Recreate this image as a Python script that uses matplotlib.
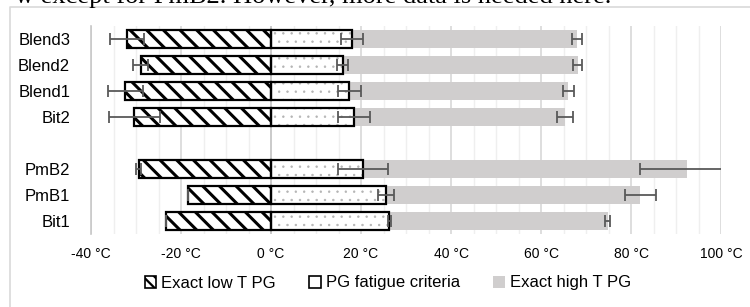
import matplotlib
matplotlib.use("Agg")
import matplotlib.pyplot as plt
import numpy as np
from matplotlib.patches import Patch
from matplotlib.lines import Line2D
from matplotlib.ticker import MultipleLocator, FuncFormatter

categories = ["Blend3", "Blend2", "Blend1", "Bit2", "", "PmB2", "PmB1", "Bit1"]
low_pg = [-32.0, -29.0, -32.4, -30.4, np.nan, -29.4, -18.4, -23.3]
low_err = [3.7, 1.7, 3.9, 5.7, np.nan, 0.5, 0.0, 0.0]
fatigue_pg = [18.0, 15.9, 17.4, 18.4, np.nan, 20.4, 25.6, 26.3]
fatigue_err = [2.5, 1.2, 2.5, 3.6, np.nan, 5.6, 1.8, 0.3]
high_pg = [68.0, 68.2, 66.1, 65.3, np.nan, 92.4, 82.1, 74.8]
high_err = [1.2, 1.0, 1.2, 1.8, np.nan, 10.4, 3.5, 0.5]
legend_labels = ["Exact low T PG", "PG fatigue criteria", "Exact high T PG"]
caption = "w except for PmB2. However, more data is needed here."

W, H = 750, 307
fig = plt.figure(figsize=(W / 100, H / 100), dpi=100)
font = "Liberation Sans"


def set_hlw(container, lw):
    for p in container:
        if hasattr(p, "set_hatch_linewidth"):
            p.set_hatch_linewidth(lw)


ax = fig.add_axes([91 / W, 1 - 234 / H, (721 - 91) / W, (234 - 26) / H])
y = np.arange(len(categories))
low = np.array(low_pg, dtype=float)
fat = np.array(fatigue_pg, dtype=float)
high = np.array(high_pg, dtype=float)
bh = 0.66
gray = "#d0cece"
errc = "#595959"

# high T bars (stacked after fatigue)
ax.barh(y, high - fat, left=fat, height=bh, color=gray, edgecolor="none", zorder=2)
# fatigue bars: sparse light dots then black outline
with plt.rc_context({"hatch.linewidth": 0.5}):
    b = ax.barh(y, fat, height=bh, color="white", edgecolor="#b4b4b4", hatch="..", linewidth=0, zorder=3)
    set_hlw(b, 0.5)
ax.barh(y, fat, height=bh, color="none", edgecolor="black", linewidth=1.6, zorder=4)
# low T bars hatched
with plt.rc_context({"hatch.linewidth": 2.2}):
    b = ax.barh(y, low, height=bh, color="white", edgecolor="black", hatch="\\\\", linewidth=1.6, zorder=3)
    set_hlw(b, 2.2)

ekw = dict(fmt="none", ecolor=errc, elinewidth=1.3, capsize=4, capthick=1.3, zorder=6, clip_on=True)
ax.errorbar(low, y, xerr=low_err, **ekw)
ax.errorbar(fat, y, xerr=fatigue_err, **ekw)
ax.errorbar(high, y, xerr=high_err, **ekw)

ax.set_xlim(-40, 100)
ax.set_ylim(len(categories) - 0.5, -0.5)
ax.xaxis.set_major_locator(MultipleLocator(20))
ax.xaxis.set_minor_locator(MultipleLocator(5))
ax.xaxis.set_major_formatter(FuncFormatter(lambda v, p: f"{int(round(v))} °C"))
ax.grid(True, which="major", axis="x", color="#d4d4d4", linewidth=1.1, zorder=0)
ax.grid(True, which="minor", axis="x", color="#efefef", linewidth=1.0, zorder=0)
ax.set_axisbelow(True)
ax.axvline(0, color="#c8c8c8", linewidth=1.2, zorder=1)
for s in ["top", "right", "bottom"]:
    ax.spines[s].set_visible(False)
ax.spines["left"].set_color("#c8c8c8")
ax.spines["left"].set_linewidth(1.2)
ax.set_yticks(y)
ax.set_yticklabels(categories, fontsize=12, fontfamily=font)
ax.tick_params(axis="y", length=0, pad=15)
ax.tick_params(axis="x", which="both", length=0, pad=9, labelsize=10)
for t in ax.get_xticklabels():
    t.set_fontfamily(font)

with plt.rc_context({"hatch.linewidth": 1.6}):
    handles = [
        Patch(facecolor="white", edgecolor="black", hatch="\\\\\\", linewidth=1.2),
        Patch(facecolor="white", edgecolor="black", linewidth=1.2),
        Patch(facecolor=gray, edgecolor="none"),
    ]
    leg = fig.legend(handles, legend_labels, loc="center", bbox_to_anchor=(388 / W, 1 - 283 / H),
                     ncol=3, frameon=False, handlelength=0.7, handleheight=0.7, handletextpad=0.3,
                     columnspacing=2.0, prop={"family": font, "size": 12})
for p in leg.get_patches():
    if hasattr(p, "set_hatch_linewidth"):
        p.set_hatch_linewidth(1.6)

# chart border
fig.add_artist(Line2D([10 / W, 10 / W, 1.0], [0.0, 1 - 7 / H, 1 - 7 / H], transform=fig.transFigure,
                      color="#d9d9d9", linewidth=1.2))
# cut-off caption text at top (only its lower part shows, as in the reference)
fig.text(611 / W, 1 - 3 / H, caption, ha="right", va="baseline", fontsize=19,
         fontfamily="Liberation Serif")

fig.savefig("out.png", dpi=100)
